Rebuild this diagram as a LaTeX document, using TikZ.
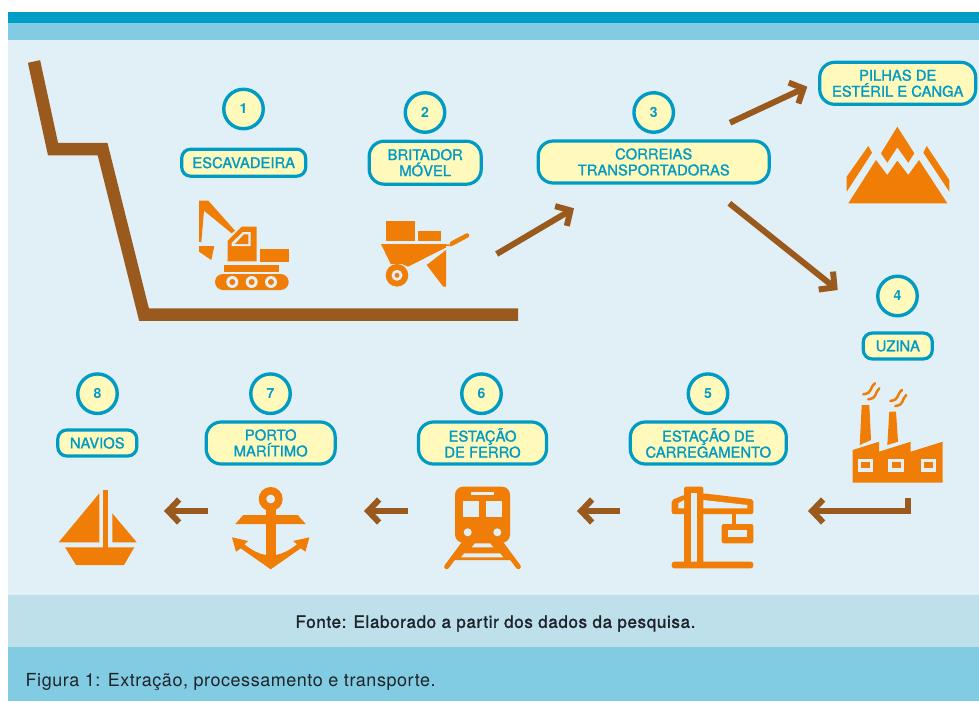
\documentclass[tikz,border=0pt]{standalone}
\usepackage{fontspec}
\setmainfont{TeX Gyre Heros}[LetterSpace=3]
\newfontfamily\lablfont[FakeBold=1.3]{TeX Gyre Heros}
\newfontfamily\fontefont[FakeBold=1.6,LetterSpace=3.8]{TeX Gyre Heros}
\usetikzlibrary{arrows.meta}
\definecolor{bandtop}{RGB}{0,158,198}
\definecolor{bandmid}{RGB}{130,204,227}
\definecolor{bandsrc}{RGB}{190,224,235}
\definecolor{panelbg}{RGB}{225,240,246}
\definecolor{tealline}{RGB}{0,155,196}
\definecolor{creamfill}{RGB}{255,249,188}
\definecolor{rustbrown}{RGB}{154,90,30}
\definecolor{iconorange}{RGB}{240,125,5}
\definecolor{inkdark}{RGB}{30,35,40}
\tikzset{
  numcirc/.style={circle,draw=tealline,line width=3.4pt,fill=creamfill,minimum size=39.5pt,inner sep=0pt,
    text=tealline,font=\fontsize{14}{16}\selectfont\bfseries},
  lablbox/.style={rectangle,rounded corners=#1,draw=tealline,line width=3.2pt,fill=creamfill,inner sep=0pt,
    text=tealline,align=center,font=\fontsize{14.8}{16}\lablfont},
  lablbox/.default=11pt,
  flowarrow/.style={draw=rustbrown,line width=6pt,-{Straight Barb[length=11pt,width=23pt]}},
  pitline/.style={draw=rustbrown,line width=12.5pt,miter limit=10},
  icon/.style={fill=iconorange},
  hole/.style={fill=panelbg}
}
\begin{document}
\begin{tikzpicture}[x=1pt,y=-1pt]
    \useasboundingbox (0,0) rectangle (979,701);
    \fill[white] (0,0) rectangle (979,701);
    \fill[bandtop] (8,12) rectangle (979,23.5);
    \fill[bandmid] (8,23.5) rectangle (979,40.5);
    \fill[panelbg] (8,40.5) rectangle (979,595);
    \fill[bandsrc] (8,595) rectangle (979,647);
    \fill[bandmid] (8,647) rectangle (979,701);

    % pit profile
    \draw[pitline] (34,61.5) -- (53,149) -- (102.5,149) -- (144,314.5) -- (518,314.5);

    % numbers
    \node[numcirc] (num1) at (243.5,109) {1};
    \node[numcirc] (num2) at (425,112.5) {2};
    \node[numcirc] (num3) at (653.7,112.5) {3};
    \node[numcirc] (num4) at (897.5,296) {4};
    \node[numcirc] (num5) at (708,393.7) {5};
    \node[numcirc] (num6) at (481.5,393.7) {6};
    \node[numcirc] (num7) at (270.5,393.7) {7};
    \node[numcirc] (num8) at (97.5,393.7) {8};

    % labels
    \node[lablbox=9pt,minimum width=124pt,minimum height=27pt] (escav) at (243.7,162.7) {ESCAVADEIRA};
    \node[lablbox=15pt,minimum width=112pt,minimum height=43pt] (britador) at (425.2,162.7) {BRITADOR\\MÓVEL};
    \node[lablbox=15pt,minimum width=231pt,minimum height=42pt] (correias) at (653.7,162) {CORREIAS\\TRANSPORTADORAS};
    \node[lablbox=15pt,minimum width=156pt,minimum height=42pt] (pilhas) at (897.7,83.3) {PILHAS DE\\ESTÉRIL E CANGA};
    \node[lablbox=9pt,minimum width=69pt,minimum height=26pt] (uzina) at (897.8,346) {UZINA};
    \node[lablbox=15pt,minimum width=156pt,minimum height=42pt] (estcarreg) at (708.3,443) {ESTAÇÃO DE\\CARREGAMENTO};
    \node[lablbox=15pt,minimum width=128pt,minimum height=42pt] (estferro) at (482.5,443) {ESTAÇÃO\\DE FERRO};
    \node[lablbox=15pt,minimum width=129pt,minimum height=42pt] (porto) at (270.7,443) {PORTO\\MARÍTIMO};
    \node[lablbox=9pt,minimum width=79pt,minimum height=26pt] (navios) at (97.3,443) {NAVIOS};

    % arrows
    \coordinate (a1s) at (496.7,254);
    \coordinate (a1e) at (574,208.3);
    \coordinate (a2s) at (730,122.7);
    \coordinate (a2e) at (807.3,86.7);
    \coordinate (a3s) at (729.3,203.3);
    \coordinate (a3e) at (837.7,290);
    \coordinate (a4s) at (908,498);
    \coordinate (a4m) at (908,511);
    \coordinate (a4e) at (808,511);
    \coordinate (a5s) at (620,511);
    \coordinate (a5e) at (577,511);
    \coordinate (a6s) at (408,511);
    \coordinate (a6e) at (364,511);
    \coordinate (a7s) at (207.5,511);
    \coordinate (a7e) at (164,511);
    \draw[flowarrow] (a1s) -- (a1e);
    \draw[flowarrow] (a2s) -- (a2e);
    \draw[flowarrow] (a3s) -- (a3e);
    \draw[flowarrow] (a4s) -- (a4m) -- (a4e);
    \draw[flowarrow] (a5s) -- (a5e);
    \draw[flowarrow] (a6s) -- (a6e);
    \draw[flowarrow] (a7s) -- (a7e);

    % excavator
    \fill[icon] (199,200.7) -- (208.3,200.7) -- (235,230.7) -- (231.7,233.3) -- (204,210.7) -- (201.3,242.3) -- (199,242) -- cycle;
    \fill[icon] (199,246) -- (214.3,246) -- (211.3,260) -- (199,251.7) -- cycle;
    \fill[icon] (227.7,261.3) -- (227.7,240.7) -- (241.7,226.7) -- (256.7,226.7) -- (256.7,261.3) -- cycle;
    \fill[hole] (231.5,246) -- (231.5,243) -- (243,232) -- (250.5,232) -- (250.5,246) -- cycle;
    \fill[icon] (235,244) -- (244,234.3) -- (248.3,234.3) -- (248.3,244) -- cycle;
    \fill[icon] (260,248.7) rectangle (288.7,261.7);
    \fill[icon] (224.3,264.7) rectangle (278.7,271.7);
    \fill[icon,rounded corners=8pt] (215,274) rectangle (288.7,290);
    \foreach \wx in {232.3,251.7,271} {
      \fill[hole] (\wx,282) circle (6);
      \fill[icon] (\wx,282) circle (3);
    }

    % wheelbarrow
    \fill[icon] (385.7,221.3) rectangle (415,240.7);
    \fill[icon] (418,231) rectangle (440.7,240.7);
    \fill[icon] (381,244) -- (446,244) -- (446,247.5) -- (408,266.7) -- (402,264) -- (390.7,264) -- cycle;
    \fill[icon] (397,275.3) circle (11.3);
    \fill[hole] (397,275.3) circle (5.5);
    \fill[icon] (397,275.3) circle (2.5);
    \draw[iconorange,line width=1.5pt] (446,245) -- (452,245.5);
    \draw[iconorange,line width=4.5pt,line cap=round] (452,243.5) -- (467,235.5);
    \fill[icon] (446,250) -- (446,286.7) -- (443.3,286.7) -- (426.7,265) -- cycle;

    % mountains
    \fill[icon] (848.3,203.3) -- (876,160) -- (887.3,175) -- (897.3,160.7) -- (908.3,175) -- (919,160) -- (947.3,203.3) -- cycle;
    \fill[icon] (897.3,126.7) -- (914.3,153.3) -- (908.3,162.7) -- (897.3,147.3) -- (887.3,162.7) -- (881,153.3) -- cycle;
    \fill[icon] (868.3,146) -- (872,152.7) -- (846.7,191.7) -- (846.7,176.7) -- cycle;
    \fill[icon] (926.7,146) -- (949.3,180) -- (949.3,191.7) -- (923.3,152.7) -- cycle;

    % factory
    \fill[icon] (852.7,482.7) -- (852.7,450) -- (879,441.7) -- (879,451.7) -- (910.7,441.7) -- (910.7,451.7) -- (942.7,441.7) -- (942.7,482.7) -- cycle;
    \fill[icon] (861.7,405) -- (869.3,405) -- (871,440) -- (859.7,445) -- cycle;
    \fill[icon] (889.3,411.7) -- (896,411.7) -- (898,441.7) -- (887.3,445) -- cycle;
    \foreach \fx in {857.7,888.3,920.7} {
      \fill[hole] (\fx,459) rectangle (\fx+15.6,471.7);
      \fill[icon] (\fx+3.4,462.3) rectangle (\fx+12.2,468.3);
    }
    \foreach \sx/\sy in {0/0,27/6.7} {
      \draw[iconorange,line width=2.5pt,line cap=round] (863.3+\sx,394.3+\sy) .. controls (873+\sx,393+\sy) and (869+\sx,388+\sy) .. (875+\sx,383.3+\sy);
      \draw[iconorange,line width=2.5pt,line cap=round] (868.3+\sx,399.3+\sy) .. controls (878+\sx,398+\sy) and (874+\sx,393+\sy) .. (879.3+\sx,388.3+\sy);
    }

    % crane
    \fill[icon,rounded corners=2pt] (703.3,493.3) -- (753.3,499.3) -- (753.3,514) -- (671.7,514) -- (671.7,500) -- (684,495) -- cycle;
    \fill[icon,rounded corners=2pt] (684,486.7) rectangle (703.3,567);
    \fill[hole] (703.3,500) -- (747.3,505) -- (747.3,508.3) -- (703.3,508.3) -- cycle;
    \fill[hole] (678.3,503.3) -- (684,500) -- (684,508.3) -- (678.3,508.3) -- cycle;
    \fill[hole] (690.7,492.7) rectangle (696.7,561.7);
    \fill[icon] (731.7,514) rectangle (736,525);
    \fill[icon,rounded corners=2pt] (721.7,524) rectangle (753.3,543.3);
    \fill[hole] (727.7,530) rectangle (747.3,536.7);
    \fill[icon,rounded corners=2.5pt] (671.7,561.7) rectangle (753.3,568.3);

    % train
    \draw[iconorange,line width=5pt,line cap=round] (464,543.3) -- (446.7,566.7);
    \draw[iconorange,line width=5pt,line cap=round] (501,543.3) -- (518.3,566.7);
    \fill[icon] (464,542) -- (501,542) -- (515,560) -- (450,560) -- cycle;
    \fill[hole] (475,543.3) -- (490,543.3) -- (493.3,547.3) -- (471.7,547.3) -- cycle;
    \fill[hole] (464.3,553.3) -- (500,553.3) -- (503.3,557.3) -- (461,557.3) -- cycle;
    \fill[icon,rounded corners=8pt] (455,486.7) rectangle (510,542.7);
    \fill[hole] (463.3,500.7) rectangle (479.3,517.3);
    \fill[hole] (485.7,500.7) rectangle (501.7,517.3);
    \fill[hole] (471,492.3) rectangle (494,495.3);
    \fill[hole] (467.7,532.3) circle (4);
    \fill[hole] (497.3,532.3) circle (4);

    % anchor
    \draw[iconorange,line width=7.5pt] (270.7,499) circle (8.2);
    \fill[icon] (243.3,515) -- (297.7,515) -- (305.7,524) -- (235.3,524) -- cycle;
    \fill[icon] (266,506.7) rectangle (275.7,560);
    \fill[icon] (270.7,569.3) -- (240.7,548.3) -- (236,551.7) -- (232,537.3) -- (248.3,541) -- (244.3,544.3) .. controls (252,550) and (258,554) .. (266.7,555) -- (274.7,555) .. controls (283.4,554) and (289.4,550) .. (297.1,544.3) -- (293.1,541) -- (309.4,537.3) -- (305.4,551.7) -- (300.7,548.3) -- cycle;

    % boat
    \fill[icon] (99.3,493.3) -- (99.3,542.3) -- (58.7,542.3) -- cycle;
    \fill[icon] (103.3,490) rectangle (108.3,548);
    \fill[icon] (112.3,513.3) -- (136.7,542.3) -- (112.3,542.3) -- cycle;
    \fill[icon] (65,547.3) -- (134.3,547.3) -- (124,565) -- (76,565) -- cycle;

    % captions
    \node[text=inkdark,font=\fontsize{17}{18}\fontefont] (fonte) at (495.5,623.5) {Fonte: Elaborado a partir dos dados da pesquisa.};
    \node[text=inkdark,anchor=west,inner sep=0pt,font=\fontsize{18}{20}\selectfont] (figura) at (25.5,681.5) {Figura 1: Extração, processamento e transporte.};
\end{tikzpicture}
\end{document}
